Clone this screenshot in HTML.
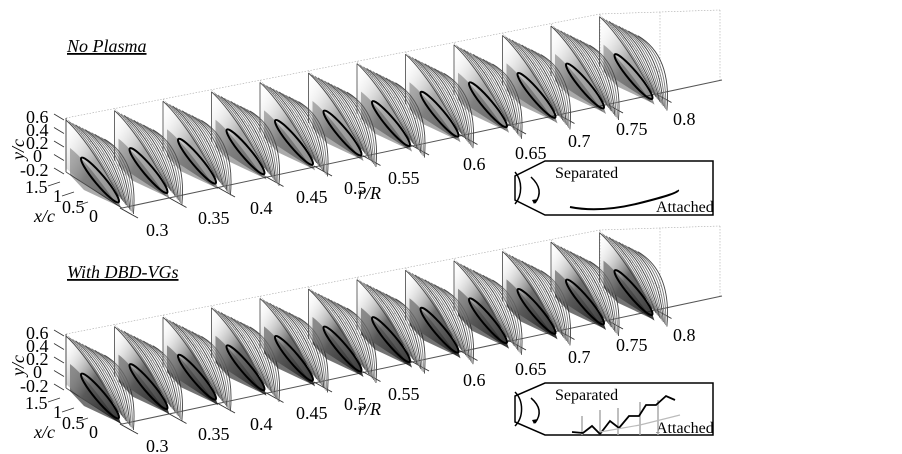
<!DOCTYPE html>
<html><head><meta charset="utf-8">
<style>
html,body{margin:0;padding:0;background:#fff;}
svg{display:block;font-family:"Liberation Serif",serif;}
.t{font-size:18px;fill:#000;}
.h{font-size:18px;font-style:italic;text-decoration:underline;}
.s{font-size:16px;}
</style></head>
<body>
<svg id="sv" width="902" height="454" viewBox="0 0 902 454" xmlns="http://www.w3.org/2000/svg">
<defs>
<linearGradient id="g1" x1="0" y1="0" x2="1" y2="1">
<stop offset="0" stop-color="#fff" stop-opacity="0"/>
<stop offset="0.5" stop-color="#555"/>
<stop offset="1" stop-color="#111"/>
</linearGradient>
</defs>
<g id="p0"></g>
<g id="p1"></g>
<!-- Top panel text -->
<text class="h" x="67" y="52">No Plasma</text>
<g class="t">
<text x="26" y="123">0.6</text><text x="26" y="136">0.4</text><text x="26" y="149">0.2</text>
<text x="33" y="162">0</text><text x="20" y="176">-0.2</text>
<text x="25" y="193">1.5</text><text x="53" y="202">1</text><text x="62" y="213">0.5</text>
<text x="89" y="222">0</text>
<text x="34" y="222" font-style="italic">x/c</text>
<text x="24" y="160" font-style="italic" transform="rotate(-90 24 160)">y/c</text>
<text x="146" y="236">0.3</text><text x="198" y="224">0.35</text><text x="250" y="214">0.4</text>
<text x="296" y="203">0.45</text><text x="344" y="194">0.5</text><text x="388" y="184">0.55</text>
<text x="358" y="199" font-style="italic">r/R</text>
<text x="463" y="170">0.6</text><text x="515" y="159">0.65</text><text x="568" y="147">0.7</text>
<text x="616" y="135">0.75</text><text x="673" y="125">0.8</text>
</g>
<!-- Bottom panel text -->
<text class="h" x="67" y="278">With DBD-VGs</text>
<g class="t">
<text x="26" y="339">0.6</text><text x="26" y="352">0.4</text><text x="26" y="365">0.2</text>
<text x="33" y="378">0</text><text x="20" y="392">-0.2</text>
<text x="25" y="409">1.5</text><text x="53" y="418">1</text><text x="62" y="429">0.5</text>
<text x="89" y="438">0</text>
<text x="34" y="438" font-style="italic">x/c</text>
<text x="24" y="376" font-style="italic" transform="rotate(-90 24 376)">y/c</text>
<text x="146" y="452">0.3</text><text x="198" y="440">0.35</text><text x="250" y="430">0.4</text>
<text x="296" y="419">0.45</text><text x="344" y="410">0.5</text><text x="388" y="400">0.55</text>
<text x="358" y="415" font-style="italic">r/R</text>
<text x="463" y="386">0.6</text><text x="515" y="375">0.65</text><text x="568" y="363">0.7</text>
<text x="616" y="351">0.75</text><text x="673" y="341">0.8</text>
</g>
<!-- insets -->
<g fill="none" stroke="#000" stroke-width="1.5">
<path d="M545 161 L713 161 L713 215 L545 215 L515 200 L515 176 Z" fill="#fff"/>
<path d="M515 172 A18 22 0 0 1 515 204"/>
<path d="M531 177 Q545 190 535 203"/>
<path d="M545 383 L713 383 L713 435 L545 435 L515 422 L515 396 Z" fill="#fff"/>
<path d="M515 392 A18 22 0 0 1 515 426"/>
<path d="M531 398 Q545 410 535 423"/>
</g>
<path d="M532 200 L534 204 L538 199Z" fill="#000"/>
<path d="M532 420 L534 424 L538 419Z" fill="#000"/>
<text class="s" x="555" y="178">Separated</text>
<text class="s" x="656" y="212">Attached</text>
<text class="s" x="555" y="400">Separated</text>
<text class="s" x="656" y="433">Attached</text>
<path d="M570 207 Q600 213 640 203 T678 190" fill="none" stroke="#000" stroke-width="2"/>
<g stroke="#aaa" stroke-width="1.5"><path d="M582 435V416M600 435V410M618 435V408M640 435V402M658 435V400"/></g>
<path d="M572 432L583 433L592 426L600 434L610 421L619 428L629 416L639 416L646 405L656 405L666 396L675 400" fill="none" stroke="#000" stroke-width="1.8"/>
<path d="M600 432L640 425L680 415" fill="none" stroke="#bbb" stroke-width="1.2"/>
</svg>
<script>
(function(){
var NS="http://www.w3.org/2000/svg";
function el(p,n,a){var e=document.createElementNS(NS,n);for(var k in a)e.setAttribute(k,a[k]);p.appendChild(e);return e;}
function panel(id,oy,dark){
 var g=document.getElementById(id);
 var gs={fill:"none",stroke:"#aaa","stroke-width":0.6,"stroke-dasharray":"1.5,1.5"};
 for(var i=0;i<12;i++){
  var bx=66+i*48.5, by=118+oy-i*9.4;
  el(g,"path",Object.assign({d:"M"+bx+" "+by+" L"+(bx+60)+" "+(by+58)},gs));
 }
 el(g,"path",Object.assign({d:"M66 "+(118+oy)+" L600 "+(14+oy)+" L720 "+(10+oy)+" M600 "+(14+oy)+" L600 "+(90+oy)+" M720 "+(10+oy)+" L720 "+(80+oy)+" M660 "+(12+oy)+" L660 "+(85+oy)},gs));
 el(g,"path",{d:"M122 "+(208+oy)+" L722 "+(80+oy)+" M66 "+(172+oy)+" L122 "+(208+oy)+" M66 "+(118+oy)+" L66 "+(172+oy),stroke:"#555","stroke-width":1,fill:"none"});
 for(var i=0;i<12;i++){
  var bx=120+i*48.5, by=208+oy-i*10.5;
  el(g,"line",{x1:bx,y1:by,x2:bx+18,y2:by+10,stroke:"#333","stroke-width":1});
 }
 for(var j=0;j<5;j++){el(g,"line",{x1:54,y1:114+oy+j*13.5,x2:64,y2:120+oy+j*13.5,stroke:"#333","stroke-width":0.8});}
 for(var j=0;j<3;j++){el(g,"line",{x1:48+j*14,y1:186+oy+j*10,x2:60+j*14,y2:182+oy+j*10,stroke:"#333","stroke-width":0.8});}
 for(var i=0;i<12;i++){
  var sx=66+i*48.5, sy=120+oy-i*9.4;
  var tx=sx+55, ty=sy+88;
  var op=dark?0.9:0.55;
  el(g,"path",{d:"M"+(sx+4)+" "+(sy+28)+" Q"+(sx+20)+" "+(sy+40)+" "+(tx-3)+" "+(ty-2)+" L"+(sx+18)+" "+(sy+70)+" L"+(sx+4)+" "+(sy+55)+"Z",fill:"#222",opacity:op*0.7});
  el(g,"path",{d:"M"+sx+" "+sy+" L"+(sx+4)+" "+(sy+2)+" Q"+(sx+40)+" "+(sy+40)+" "+tx+" "+ty+" L"+(sx+15)+" "+(sy+62)+" L"+sx+" "+(sy+48)+"Z",fill:"url(#g1)",opacity:dark?0.85:0.5});
  for(var k=0;k<13;k++){
   var x0=sx+k*3.2, y0=sy+k*1.6;
   var x1=tx-2+k*1.2, y1=ty-12+k*1.5;
   el(g,"path",{d:"M"+x0+" "+y0+" Q"+(x0+22+k)+" "+(y0+20)+" "+x1+" "+y1,fill:"none",stroke:k%3?"#777":"#444","stroke-width":0.9});
  }
  el(g,"ellipse",{cx:sx+34,cy:sy+60,rx:29,ry:5,transform:"rotate(50 "+(sx+34)+" "+(sy+60)+")",fill:"none",stroke:"#000","stroke-width":2});
  el(g,"line",{x1:sx,y1:sy,x2:sx,y2:sy+50,stroke:"#444","stroke-width":0.8});
 }
}
panel("p0",0,false);
panel("p1",216,true);
})();
</script>
</body></html>
